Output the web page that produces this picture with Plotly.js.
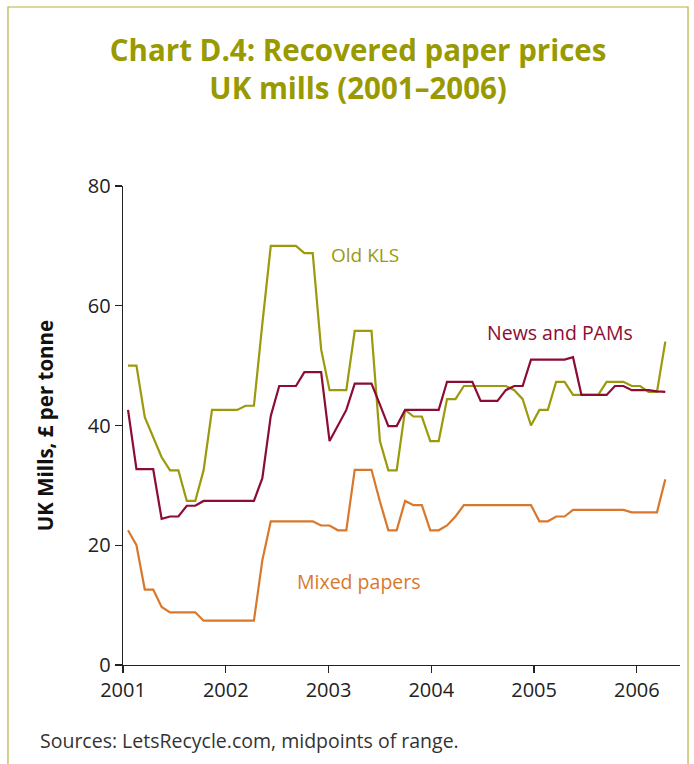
<!DOCTYPE html>
<html>
<head>
<meta charset="utf-8">
<script src="https://cdn.plot.ly/plotly-3.0.1.min.js"></script>
<style>
html, body { margin: 0; padding: 0; background: #ffffff; }
#chart { width: 694px; height: 764px; }
</style>
</head>
<body>
<div id="chart"></div>
<script>
const dates = [
  2001.049, 2001.131, 2001.212, 2001.294, 2001.376, 2001.458, 2001.539, 2001.621, 2001.703, 2001.784,
  2001.866, 2001.948, 2002.029, 2002.111, 2002.193, 2002.274, 2002.356, 2002.438, 2002.520, 2002.601,
  2002.683, 2002.765, 2002.846, 2002.928, 2003.010, 2003.091, 2003.173, 2003.255, 2003.337, 2003.418,
  2003.500, 2003.582, 2003.663, 2003.745, 2003.827, 2003.908, 2003.990, 2004.072, 2004.153, 2004.235,
  2004.317, 2004.399, 2004.480, 2004.562, 2004.644, 2004.725, 2004.807, 2004.889, 2004.970, 2005.052,
  2005.134, 2005.215, 2005.297, 2005.379, 2005.461, 2005.542, 2005.624, 2005.706, 2005.787, 2005.869,
  2005.951, 2006.032, 2006.114, 2006.196, 2006.277
];

// £ per tonne
const oldKLS = [
  50, 50, 41.4, 38, 34.7, 32.5, 32.5, 27.4, 27.4, 32.5,
  42.6, 42.6, 42.6, 42.6, 43.3, 43.3, 57, 70, 70, 70,
  70, 68.8, 68.8, 52.7, 45.9, 45.9, 45.9, 55.8, 55.8, 55.8,
  37.4, 32.5, 32.5, 42.6, 41.5, 41.5, 37.4, 37.4, 44.4, 44.4,
  46.6, 46.6, 46.6, 46.6, 46.6, 46.6, 45.9, 44.4, 40.0, 42.6,
  42.6, 47.3, 47.3, 45.1, 45.1, 45.1, 45.1, 47.3, 47.3, 47.3,
  46.6, 46.6, 45.6, 45.6, 54.0
];

const newsPAMs = [
  42.6, 32.7, 32.7, 32.7, 24.4, 24.8, 24.8, 26.6, 26.6, 27.4,
  27.4, 27.4, 27.4, 27.4, 27.4, 27.4, 31.2, 41.6, 46.6, 46.6,
  46.6, 48.9, 48.9, 48.9, 37.4, 40.0, 42.6, 47.0, 47.0, 47.0,
  43.5, 39.9, 39.9, 42.6, 42.6, 42.6, 42.6, 42.6, 47.3, 47.3,
  47.3, 47.3, 44.1, 44.1, 44.1, 45.9, 46.6, 46.6, 51.0, 51.0,
  51.0, 51.0, 51.0, 51.4, 45.1, 45.1, 45.1, 45.1, 46.6, 46.6,
  45.9, 45.9, 45.9, 45.7, 45.6
];

const mixedPapers = [
  22.5, 20.0, 12.6, 12.6, 9.7, 8.8, 8.8, 8.8, 8.8, 7.4,
  7.4, 7.4, 7.4, 7.4, 7.4, 7.4, 17.5, 24.0, 24.0, 24.0,
  24.0, 24.0, 24.0, 23.3, 23.3, 22.5, 22.5, 32.6, 32.6, 32.6,
  27.3, 22.5, 22.5, 27.4, 26.7, 26.7, 22.5, 22.5, 23.3, 24.8,
  26.7, 26.7, 26.7, 26.7, 26.7, 26.7, 26.7, 26.7, 26.7, 24.0,
  24.0, 24.8, 24.8, 25.9, 25.9, 25.9, 25.9, 25.9, 25.9, 25.9,
  25.5, 25.5, 25.5, 25.5, 31.0
];

const seriesNames = ['Old KLS', 'News and PAMs', 'Mixed papers'];
const xTicks = [2001, 2002, 2003, 2004, 2005, 2006];
const yTicks = [0, 20, 40, 60, 80];

const colOld = '#9a9a0c';
const colNews = '#8c0c34';
const colMixed = '#d9782c';
const FONT = 'Open Sans, sans-serif';

const traces = [
  {x: dates, y: oldKLS, name: seriesNames[0], type: 'scatter', mode: 'lines',
   line: {color: colOld, width: 2.2}},
  {x: dates, y: newsPAMs, name: seriesNames[1], type: 'scatter', mode: 'lines',
   line: {color: colNews, width: 2.2}},
  {x: dates, y: mixedPapers, name: seriesNames[2], type: 'scatter', mode: 'lines',
   line: {color: colMixed, width: 2.2}}
];

const layout = {
  width: 694, height: 764,
  paper_bgcolor: '#ffffff', plot_bgcolor: '#ffffff',
  margin: {l: 123, r: 14, t: 186, b: 99},
  showlegend: false,
  font: {family: FONT, color: '#222222'},
  title: {
    text: '<b>Chart D.4: Recovered paper prices<br>UK mills (2001–2006)</b>',
    font: {family: FONT, size: 29.5, color: '#999900'},
    x: 0.516, xref: 'container', xanchor: 'center',
    y: 0.92, yref: 'container', yanchor: 'top'
  },
  xaxis: {
    range: [2001, 2006.42],
    tickvals: xTicks, ticktext: xTicks.map(String),
    showgrid: false, zeroline: false,
    showline: true, linecolor: '#222222', linewidth: 1.3,
    ticks: 'outside', ticklen: 7, tickcolor: '#222222', tickwidth: 1.3,
    tickfont: {family: FONT, size: 20, color: '#222222'}
  },
  yaxis: {
    range: [0, 80],
    tickvals: yTicks,
    showgrid: false, zeroline: false,
    showline: true, linecolor: '#222222', linewidth: 1.3,
    ticks: 'outside', ticklen: 7, tickcolor: '#222222', tickwidth: 1.3,
    tickfont: {family: FONT, size: 20, color: '#222222'},
    title: {text: '<b>UK Mills, £ per tonne</b>', standoff: 28,
            font: {family: FONT, size: 20.5, color: '#111111'}}
  },
  annotations: [
    {x: 2003.0, y: 68.4, xref: 'x', yref: 'y', text: seriesNames[0], showarrow: false,
     xanchor: 'left', yanchor: 'middle', font: {family: FONT, size: 19, color: colOld}},
    {x: 2004.52, y: 55.6, xref: 'x', yref: 'y', text: seriesNames[1], showarrow: false,
     xanchor: 'left', yanchor: 'middle', font: {family: FONT, size: 19.5, color: colNews}},
    {x: 2002.67, y: 13.9, xref: 'x', yref: 'y', text: seriesNames[2], showarrow: false,
     xanchor: 'left', yanchor: 'middle', font: {family: FONT, size: 19.5, color: colMixed}},
    {x: -0.153, y: -0.1566, xref: 'paper', yref: 'paper',
     text: 'Sources: LetsRecycle.com, midpoints of range.', showarrow: false,
     xanchor: 'left', yanchor: 'middle', font: {family: FONT, size: 19.5, color: '#333333'}}
  ],
  shapes: [
    {type: 'rect', xref: 'paper', yref: 'paper',
     x0: -0.2065, x1: 1.0144, y0: -0.25, y1: 1.3737,
     line: {color: '#b4b43c', width: 1.2}, fillcolor: 'rgba(0,0,0,0)', layer: 'below'}
  ]
};

Plotly.newPlot('chart', traces, layout, {displayModeBar: false, staticPlot: true});
</script>
</body>
</html>
